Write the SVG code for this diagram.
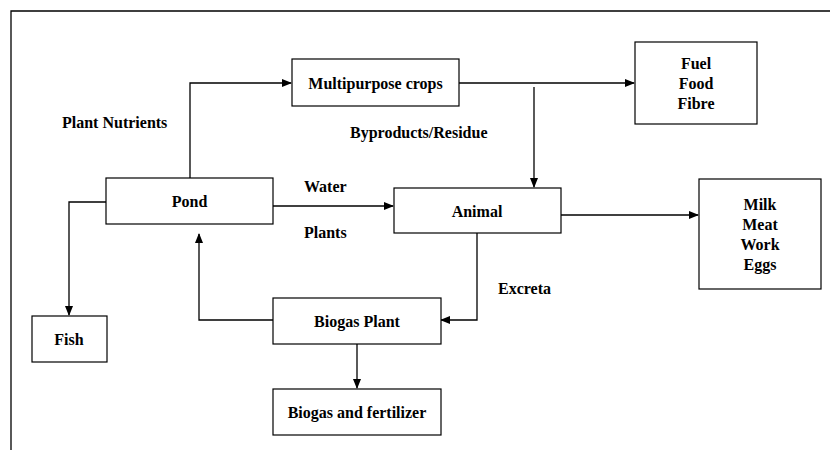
<svg xmlns="http://www.w3.org/2000/svg" width="830" height="450" viewBox="0 0 830 450">
<style>
.box{fill:#fff;stroke:#000;stroke-width:1.2}
.ln{fill:none;stroke:#000;stroke-width:1.3}
text{font-weight:bold;font-size:16px;fill:#000}
.c{text-anchor:middle}
</style>
<defs>
<marker id="ah" markerWidth="10" markerHeight="8" refX="9" refY="4" orient="auto" markerUnits="userSpaceOnUse">
<path d="M0,0 L10,4 L0,8 Z" fill="#000"/>
</marker>
</defs>
<rect width="830" height="450" fill="#fff"/>
<path d="M11,450 V11 H830" fill="none" stroke="#000" stroke-width="1.3"/>
<g id="connectors">
<path class="ln" d="M190,178 V83 H291" marker-end="url(#ah)"/>
<path class="ln" d="M459,83 H634" marker-end="url(#ah)"/>
<path class="ln" d="M534,87 V187" marker-end="url(#ah)"/>
<path class="ln" d="M273,206 H393" marker-end="url(#ah)"/>
<path class="ln" d="M561,215 H698" marker-end="url(#ah)"/>
<path class="ln" d="M106,202 H69 V315" marker-end="url(#ah)"/>
<path class="ln" d="M273,320 H199 V234" marker-end="url(#ah)"/>
<path class="ln" d="M477,233 V320 H441" marker-end="url(#ah)"/>
<path class="ln" d="M357,344 V388" marker-end="url(#ah)"/>
</g>
<g font-family="'Liberation Serif', 'Times New Roman', serif">
<g id="labels">
<text x="62" y="128">Plant Nutrients</text>
<text x="350" y="138">Byproducts/Residue</text>
<text x="304" y="192">Water</text>
<text x="304" y="238">Plants</text>
<text x="498" y="294">Excreta</text>
</g>
<g id="multipurpose">
<rect class="box" x="292" y="59" width="167" height="47"/>
<text class="c" x="375.5" y="88.5">Multipurpose crops</text>
</g>
<g id="fuel">
<rect class="box" x="635" y="42" width="122" height="82"/>
<text class="c" x="696" y="68.5">Fuel</text>
<text class="c" x="696" y="88.5">Food</text>
<text class="c" x="696" y="108.5">Fibre</text>
</g>
<g id="pond">
<rect class="box" x="106" y="178" width="167" height="46"/>
<text class="c" x="189.5" y="206.5">Pond</text>
</g>
<g id="animal">
<rect class="box" x="394" y="188" width="167" height="45"/>
<text class="c" x="477" y="217">Animal</text>
</g>
<g id="milk">
<rect class="box" x="699" y="179" width="122" height="110"/>
<text class="c" x="760" y="209.5">Milk</text>
<text class="c" x="760" y="229.5">Meat</text>
<text class="c" x="760" y="249.5">Work</text>
<text class="c" x="760" y="269.5">Eggs</text>
</g>
<g id="fish">
<rect class="box" x="32" y="316" width="75" height="46"/>
<text class="c" x="69" y="344.5">Fish</text>
</g>
<g id="biogas-plant">
<rect class="box" x="273" y="298" width="168" height="46"/>
<text class="c" x="357" y="326.5">Biogas Plant</text>
</g>
<g id="biogas-fertilizer">
<rect class="box" x="273" y="389" width="168" height="46"/>
<text class="c" x="357" y="417.5">Biogas and fertilizer</text>
</g>
</g>
</svg>
